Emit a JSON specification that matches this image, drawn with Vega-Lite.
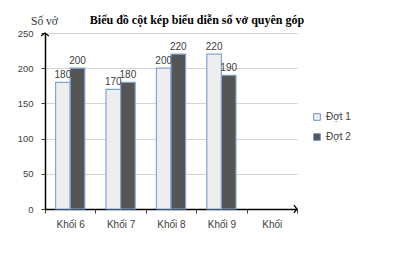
{
  "$schema": "https://vega.github.io/schema/vega-lite/v6.json",
  "width": 252,
  "height": 176,
  "autosize": "none",
  "padding": {"left": 45, "top": 33, "right": 98, "bottom": 49},
  "background": "white",
  "config": {"view": {"stroke": null}, "font": "Liberation Sans"},
  "title": {
    "text": "Biểu đồ cột kép biểu diễn số vở quyên góp",
    "font": "Liberation Serif",
    "fontSize": 12,
    "fontWeight": "bold",
    "color": "#000000",
    "anchor": "middle",
    "frame": "group",
    "dx": 26,
    "dy": 18,
    "offset": 6
  },
  "datasets": {
    "bars": [
      {"khoi": "Khối 6", "dot": "Đợt 1", "so": 180},
      {"khoi": "Khối 6", "dot": "Đợt 2", "so": 200},
      {"khoi": "Khối 7", "dot": "Đợt 1", "so": 170},
      {"khoi": "Khối 7", "dot": "Đợt 2", "so": 180},
      {"khoi": "Khối 8", "dot": "Đợt 1", "so": 200},
      {"khoi": "Khối 8", "dot": "Đợt 2", "so": 220},
      {"khoi": "Khối 9", "dot": "Đợt 1", "so": 220},
      {"khoi": "Khối 9", "dot": "Đợt 2", "so": 190}
    ],
    "arrowY": [{"khoi": "Khối 6", "so": 250}],
    "arrowX": [{"khoi": "Khối", "so": 0}]
  },
  "layer": [
    {
      "data": {"name": "bars"},
      "encoding": {
        "x": {
          "field": "khoi",
          "type": "nominal",
          "scale": {"domain": ["Khối 6", "Khối 7", "Khối 8", "Khối 9", "Khối"], "paddingInner": 0, "paddingOuter": 0},
          "axis": {
            "title": null,
            "labelAngle": 0,
            "tickBand": "extent",
            "domainColor": "#000000",
            "domainWidth": 1.5,
            "tickColor": "#404040",
            "tickSize": 4,
            "labelPadding": 6,
            "labelFontSize": 10,
            "labelColor": "#404040",
            "grid": false
          }
        },
        "xOffset": {
          "field": "dot",
          "type": "nominal",
          "scale": {"domain": ["Đợt 1", "Đợt 2"], "paddingInner": 0, "paddingOuter": 0.726}
        },
        "y": {
          "field": "so",
          "type": "quantitative",
          "scale": {"domain": [0, 250], "nice": false, "zero": true},
          "axis": {
            "values": [0, 50, 100, 150, 200, 250],
            "labelOverlap": false,
            "grid": true,
            "gridColor": "#d4d4d4",
            "domainColor": "#000000",
            "domainWidth": 1.5,
            "tickColor": "#404040",
            "tickSize": 4,
            "labelPadding": 8,
            "labelFontSize": 9.5,
            "labelColor": "#404040",
            "title": "Số vở",
            "titleFont": "Liberation Serif",
            "titleFontWeight": "normal",
            "titleFontSize": 11.5,
            "titleColor": "#333333",
            "titleAngle": 0,
            "titleX": -1,
            "titleY": -12,
            "titleAlign": "center",
            "titleBaseline": "middle"
          }
        }
      },
      "layer": [
        {
          "mark": {"type": "bar", "stroke": "#7fa5d8", "strokeWidth": 1.2},
          "encoding": {
            "fill": {
              "field": "dot",
              "type": "nominal",
              "scale": {"domain": ["Đợt 1", "Đợt 2"], "range": ["#eeeeee", "#555555"]},
              "legend": {
                "title": null,
                "orient": "none",
                "legendX": 267,
                "legendY": 79,
                "symbolType": "square",
                "symbolSize": 45,
                "symbolStrokeColor": "#6f97cf",
                "symbolStrokeWidth": 1,
                "labelFontSize": 10,
                "labelColor": "#404040",
                "rowPadding": 8
              }
            }
          }
        },
        {
          "mark": {"type": "text", "dy": -7, "fontSize": 10, "color": "#404040"},
          "encoding": {
            "text": {"field": "so", "type": "quantitative"}
          }
        }
      ]
    },
    {
      "data": {"name": "arrowY"},
      "mark": {"type": "point", "shape": "M-1,0.8L0,0L1,0.8", "filled": false, "stroke": "#000000", "opacity": 1, "strokeWidth": 1.3, "size": 60},
      "encoding": {
        "x": {"field": "khoi", "type": "nominal", "bandPosition": 0},
        "y": {
          "field": "so",
          "type": "quantitative",
          "axis": {
            "values": [0, 50, 100, 150, 200, 250],
            "labelOverlap": false,
            "grid": true,
            "gridColor": "#d4d4d4",
            "domainColor": "#000000",
            "domainWidth": 1.5,
            "tickColor": "#404040",
            "tickSize": 4,
            "labelPadding": 8,
            "labelFontSize": 9.5,
            "labelColor": "#404040",
            "title": "Số vở",
            "titleFont": "Liberation Serif",
            "titleFontWeight": "normal",
            "titleFontSize": 11.5,
            "titleColor": "#333333",
            "titleAngle": 0,
            "titleX": -1,
            "titleY": -12,
            "titleAlign": "center",
            "titleBaseline": "middle"
          }
        }
      }
    },
    {
      "data": {"name": "arrowX"},
      "mark": {"type": "point", "shape": "M-0.8,-1L0,0L-0.8,1", "filled": false, "stroke": "#000000", "opacity": 1, "strokeWidth": 1.3, "size": 60},
      "encoding": {
        "x": {"field": "khoi", "type": "nominal", "bandPosition": 1},
        "y": {
          "field": "so",
          "type": "quantitative",
          "axis": {
            "values": [0, 50, 100, 150, 200, 250],
            "labelOverlap": false,
            "grid": true,
            "gridColor": "#d4d4d4",
            "domainColor": "#000000",
            "domainWidth": 1.5,
            "tickColor": "#404040",
            "tickSize": 4,
            "labelPadding": 8,
            "labelFontSize": 9.5,
            "labelColor": "#404040",
            "title": "Số vở",
            "titleFont": "Liberation Serif",
            "titleFontWeight": "normal",
            "titleFontSize": 11.5,
            "titleColor": "#333333",
            "titleAngle": 0,
            "titleX": -1,
            "titleY": -12,
            "titleAlign": "center",
            "titleBaseline": "middle"
          }
        }
      }
    }
  ]
}
